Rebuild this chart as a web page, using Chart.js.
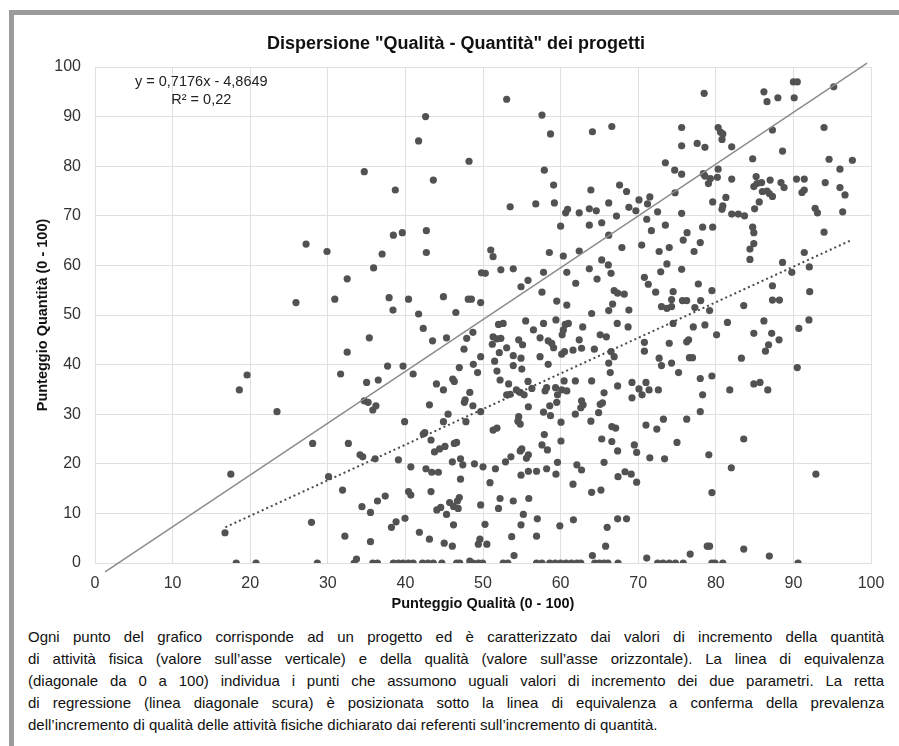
<!DOCTYPE html>
<html lang="it">
<head>
<meta charset="utf-8">
<title>Dispersione Qualità - Quantità</title>
<script src="https://cdn.jsdelivr.net/npm/chart.js@4.4.1/dist/chart.umd.min.js"></script>
<style>
  html, body { margin: 0; padding: 0; background: #fff; }
  body { width: 899px; height: 746px; position: relative; overflow: hidden; font-family: "Liberation Sans", Arial, Helvetica, sans-serif; }
  #frame { position: absolute; left: 9px; top: 10px; width: 900px; height: 750px; border-top: 5px solid #9b9b9b; border-left: 5px solid #9b9b9b; }
  #chart { position: absolute; left: 0; top: 0; }
  #caption { position: absolute; left: 28px; top: 626px; width: 856px; font-size: 15px; line-height: 22px; color: #111; }
  #caption div { text-align: justify; text-align-last: justify; }
  #caption div.last { text-align-last: left; }
</style>
</head>
<body>
<div id="frame"></div>
<canvas id="chart" width="899" height="620"></canvas>
<div id="caption">
  <div>Ogni punto del grafico corrisponde ad un progetto ed è caratterizzato dai valori di incremento della quantità</div>
  <div>di attività fisica (valore sull’asse verticale) e della qualità (valore sull’asse orizzontale). La linea di equivalenza</div>
  <div>(diagonale da 0 a 100) individua i punti che assumono uguali valori di incremento dei due parametri. La retta</div>
  <div>di regressione (linea diagonale scura) è posizionata sotto la linea di equivalenza a conferma della prevalenza</div>
  <div class="last">dell’incremento di qualità delle attività fisiche dichiarato dai referenti sull’incremento di quantità.</div>
</div>
<script>
/*----- data -----*/
const chartTitle = 'Dispersione "Qualità - Quantità" dei progetti'
const xTitle = 'Punteggio Qualità (0 - 100)'
const yTitle = 'Punteggio Quantità (0 - 100)'
const tickValues = [0, 10, 20, 30, 40, 50, 60, 70, 80, 90, 100]
const equationLines = ['y = 0,7176x - 4,8649', 'R² = 0,22']

// trend line and equivalence line, end points
const regressionQuality = [16.8, 97.6]
const regressionQuantity = [7.2, 65.2]
const equivalenceQuality = [1.3, 99.5]
const equivalenceQuantity = [-1.8, 100.8]

// projects as [quality, quantity]
const projectsUnder30 = [
  [17.5,17.9],[16.75,6.1],[18.2,0],[20.75,0],[23.45,30.5],[18.6,34.9],[19.6,37.9],[25.9,52.5],
  [27.2,64.3],[29.9,62.8],[28.05,24.1],[27.9,8.2],[28.65,0]
]
const projects30to50 = [
  [30.9,53.2],[32.5,57.3],[35.9,59.5],[37.0,62.3],[37.9,53.5],[38.4,51.0],[38.45,66.1],[39.6,66.6],
  [40.4,53.2],[41.7,50.2],[42.7,67.0],[42.7,62.6],[44.9,53.7],[34.7,78.9],[38.7,75.2],[41.7,85.1],
  [42.6,90.0],[43.6,77.2],[48.2,81.0],[46.5,50.5],[48.1,53.2],[48.5,53.2],[49.7,52.5],[49.8,58.5],
  [35.35,45.4],[32.5,42.5],[31.65,38.1],[35.0,36.4],[36.5,36.9],[37.7,39.7],[39.7,39.7],[41.0,38.1],
  [42.3,47.3],[43.5,44.8],[45.3,45.4],[34.7,32.7],[35.2,32.4],[36.2,31.7],[35.8,30.85],[47.9,45.3],
  [48.7,46.5],[47.55,43.1],[49.7,41.6],[48.75,40.05],[49.3,38.4],[46.95,39.4],[44.0,36.1],[44.9,34.9],
  [46.1,37.1],[46.3,36.6],[48.3,34.4],[47.7,32.9],[47.6,32.4],[48.7,31.7],[49.7,30.5],[43.1,31.9],
  [45.5,30.0],[47.8,28.5],[44.9,28.5],[39.9,28.5],[42.5,26.3],[42.3,26.0],[43.3,24.8],[43.75,22.4],
  [44.4,23.0],[45.1,23.5],[46.3,24.1],[46.6,24.3],[46.05,20.4],[47.1,21.0],[47.4,19.8],[48.9,20.0],
  [50.0,19.4],[47.1,16.9],[39.1,20.8],[40.7,19.4],[42.65,19.0],[43.4,18.3],[44.25,18.3],[34.15,21.8],
  [34.5,21.4],[36.1,21.0],[32.65,24.1],[30.1,17.4],[31.9,14.7],[40.4,14.4],[40.7,13.7],[37.4,13.5],
  [36.4,12.5],[34.4,11.35],[35.5,10.2],[43.3,14.4],[44.05,10.7],[44.55,11.2],[45.7,12.2],[46.2,11.4],
  [46.8,11.0],[46.95,13.2],[46.7,12.5],[45.3,9.8],[46.2,7.7],[49.7,11.7],[39.95,9.0],[38.8,8.3],
  [38.2,7.2],[32.2,5.4],[35.5,4.3],[41.8,6.2],[43.1,4.8],[45.0,4.0],[46.05,3.4],[49.6,4.8],
  [49.4,3.8],[33.4,0],[33.7,0.8],[35.8,0],[36.4,0],[38.45,0],[39.1,0],[39.7,0],
  [40.4,0],[41.0,0],[42.2,0],[42.9,0],[43.6,0],[44.7,0],[46.6,0],[47.0,0],
  [48.3,0.4],[48.7,0],[49.4,0],[49.95,0]
]
const projects50to75 = [
  [53.05,93.5],[57.6,90.3],[58.7,86.5],[64.1,86.95],[66.6,88.0],[57.9,79.2],[59.1,76.2],[59.2,72.6],
  [53.5,71.8],[56.8,72.4],[60.65,70.6],[60.9,71.3],[62.4,70.6],[60.0,67.9],[63.9,75.2],[63.7,71.4],
  [64.6,71.0],[63.7,68.1],[65.3,68.6],[66.2,72.6],[67.6,76.2],[68.5,74.9],[68.8,71.7],[69.7,71.0],
  [70.1,73.2],[71.2,72.4],[71.5,73.8],[67.2,69.95],[66.2,66.1],[67.9,63.6],[71.1,69.3],[71.7,67.0],
  [72.5,70.8],[73.5,80.7],[74.7,79.2],[74.75,74.65],[73.5,68.1],[70.45,64.1],[72.7,62.8],[74.0,63.6],
  [73.7,60.3],[72.9,58.7],[51.0,63.1],[51.3,61.75],[50.3,58.4],[52.3,59.1],[53.9,59.3],[54.9,55.7],
  [55.8,57.0],[57.8,58.6],[57.6,54.6],[58.55,62.6],[60.35,61.9],[60.8,58.6],[62.4,62.9],[61.95,56.4],
  [59.5,52.8],[60.8,52.0],[63.7,59.3],[64.7,57.25],[65.3,61.1],[66.15,60.1],[66.5,58.4],[66.9,54.9],
  [67.35,54.4],[68.2,54.2],[66.7,52.2],[64.0,50.3],[66.2,50.9],[68.8,51.0],[70.8,57.6],[71.3,56.2],
  [72.25,54.6],[73.0,51.7],[73.7,51.35],[74.3,51.7],[74.3,53.1],[74.5,54.7],
  [52.0,48.1],[52.6,48.3],[55.5,48.8],[56.5,47.0],[57.8,48.3],[59.4,49.0],[60.6,48.1],[61.0,48.3],
  [60.35,47.0],[60.2,46.0],[62.85,47.6],[67.3,48.3],[68.7,47.6],[65.1,46.0],[65.9,45.6],[74.5,48.3],
  [51.3,45.6],[51.8,45.2],[52.3,45.3],[51.2,44.1],[53.05,43.4],[52.1,42.4],[54.6,45.0],[55.1,44.0],
  [57.35,45.4],[58.4,44.8],[58.85,44.3],[59.1,43.4],[53.9,41.8],[54.9,41.3],[51.5,40.7],[53.9,39.8],
  [55.0,39.1],[57.35,41.6],[58.4,40.05],[60.15,42.1],[60.5,42.6],[61.6,42.9],[62.7,43.3],[62.4,45.0],
  [64.35,43.1],[66.5,42.6],[66.9,41.6],[66.2,40.3],[66.4,38.4],[70.8,44.5],[70.8,42.7],[72.7,41.3],
  [73.0,39.8],[74.3,40.3],[74.0,44.3],[75.2,38.4],[51.8,38.7],[52.2,36.9],[53.3,36.1],[55.8,36.6],
  [56.3,35.2],[54.3,34.9],[54.8,34.4],[55.3,33.9],[53.05,33.9],[53.5,34.0],[58.2,35.35],[58.0,34.7],
  [59.35,35.35],[59.6,33.9],[60.15,34.9],[60.8,34.7],[60.45,36.7],[61.9,36.7],[64.0,36.7],[65.6,34.3],
  [67.35,35.7],[69.2,36.4],[70.1,35.1],[70.5,33.9],[71.0,36.4],[71.4,34.9],[72.6,34.9],[69.2,33.3],
  [59.5,32.4],[58.6,31.7],[57.8,30.4],[58.7,29.7],[62.7,32.7],[62.9,31.9],[62.6,31.3],[61.9,30.0],
  [65.1,32.0],[65.4,32.3],[64.9,30.3],[55.85,31.5],[54.6,29.5],[54.5,28.6],[54.8,28.0],[51.3,26.8],
  [51.8,27.2],[60.05,28.4],[63.9,28.6],[66.6,27.5],[67.1,27.2],[71.0,27.8],[72.4,27.0],[73.25,29.0],
  [57.9,25.9],[57.6,23.8],[58.3,22.8],[60.05,24.6],[65.3,25.0],[66.6,24.5],[67.35,22.6],[69.5,23.8],
  [69.8,22.3],[75.0,24.3],[55.0,23.0],[54.8,22.6],[55.85,21.8],[55.6,21.1],[53.6,21.4],[52.9,20.4],
  [71.5,21.2],[73.4,21.0],[51.6,19.0],[50.9,16.2],[54.9,17.7],[55.85,18.5],[56.9,18.5],[58.2,19.0],
  [59.4,17.9],[59.6,20.3],[62.1,19.8],[62.7,18.75],[65.6,20.3],[67.4,17.4],[68.3,18.4],[69.1,17.9],
  [69.8,16.3],[61.6,15.9],[64.0,14.25],[65.2,14.7],[52.2,13.0],[53.9,12.5],[55.9,13.0],[52.0,11.0],
  [55.2,9.8],[57.0,8.9],[54.9,7.7],[50.26,7.8],[61.65,8.7],[59.9,7.5],[67.35,8.9],[68.5,8.9],
  [66.0,7.2],[53.7,5.3],[56.9,5.4],[50.5,3.8],[65.8,3.4],[54.0,1.5],[64.1,1.5],[71.1,1.0],
  [52.6,0],[53.2,0],[56.9,0],[57.6,0],[58.6,0],[59.3,0],[60.0,0],[60.7,0],
  [61.4,0],[62.1,0],[62.6,0],[64.4,0],[65.0,0],[65.6,0],[66.1,0],[67.4,0],
  [72.5,0],[73.2,0],[74.0,0],[74.8,0]
]
const projectsOver75 = [
  [78.5,94.7],[86.2,95.0],[86.6,93.0],[88.0,93.8],[90.0,97.0],[90.5,97.0],[90.1,93.8],[95.2,96.0],
  [75.6,87.8],[75.6,84.1],[80.3,87.8],[80.6,86.9],[80.9,86.5],[80.8,85.4],[77.6,84.6],[78.6,83.8],
  [82.05,83.9],[87.3,87.3],[88.6,83.05],[93.95,87.8],[84.75,81.5],[94.6,81.4],[97.6,81.2],[96.0,79.4],
  [75.6,78.4],[78.4,78.5],[78.6,78.0],[79.05,76.5],[79.3,77.5],[80.3,79.4],[80.2,77.75],[82.05,77.4],
  [85.2,77.9],[84.9,75.9],[85.3,76.5],[85.9,76.7],[87.0,77.2],[86.0,74.9],[86.6,75.0],[86.9,74.5],
  [87.3,73.9],[88.4,76.7],[88.8,75.7],[90.4,77.4],[91.4,77.4],[91.1,74.7],[91.4,75.2],[94.1,76.7],
  [96.0,75.7],[96.65,74.2],[85.6,72.8],[85.0,71.4],[81.3,73.7],[79.6,72.8],[80.9,72.0],[80.8,71.3],
  [82.05,70.35],[82.9,70.35],[83.7,70.0],[75.6,70.5],[92.8,71.5],[93.1,70.6],[96.35,70.8],[78.3,67.7],
  [79.6,67.7],[76.3,66.6],[75.8,65.1],[78.0,64.6],[77.2,62.8],[84.75,67.7],[84.9,66.6],[84.9,64.4],
  [84.4,63.3],[84.4,61.2],[93.95,66.7],[91.4,62.6],[88.6,60.6],[89.8,58.6],[92.05,59.7],[75.6,59.2],
  [77.75,56.25],[79.5,54.9],[87.3,55.9],[92.1,54.7],[83.6,51.9],[87.3,53.0],[88.2,53.0],[75.7,52.9],
  [76.25,52.9],[77.3,51.5],[78.05,52.9],[79.2,50.9],
  [77.1,47.6],[78.6,48.0],[81.5,48.5],[86.2,48.8],[76.5,45.0],[76.25,44.6],[80.1,46.0],[84.9,46.3],
  [87.2,46.3],[88.15,45.0],[86.8,44.0],[86.4,42.7],[76.6,41.4],[77.0,41.4],[83.3,41.3],[90.7,47.3],
  [92.0,49.0],[90.5,39.4],[78.0,37.2],[79.5,37.7],[78.3,33.9],[81.8,34.9],[84.9,36.1],[85.7,36.4],
  [86.7,34.9],[78.0,30.5],[76.25,29.0],[83.6,25.0],[79.1,21.8],[82.0,19.2],[92.9,17.9],[79.5,14.2],
  [78.9,3.4],[79.2,3.4],[76.7,1.8],[83.6,2.8],[86.9,1.4],[75.8,0],[79.5,0],[79.9,0],
  [80.9,0],[90.6,0]
]

/*----- chart -----*/
const fontFamily = '"Liberation Sans", Arial, Helvetica, sans-serif'
Chart.defaults.font.family = fontFamily
Chart.defaults.color = '#333'

const allProjects = [...projectsUnder30, ...projects30to50, ...projects50to75, ...projectsOver75]
const toPoints = (xs, ys) => xs.map((v, i) => ({x: v, y: ys[i]}))

// where the equation text sits, in axis units
const equationAt = {x: 13.7, y: [97.0, 93.4]}

const equationLabel = {
  id: 'equationLabel',
  afterDatasetsDraw(chart) {
    const {ctx, scales} = chart
    ctx.save()
    ctx.font = '14.5px ' + fontFamily
    ctx.fillStyle = '#222'
    ctx.textAlign = 'center'
    ctx.textBaseline = 'middle'
    equationLines.forEach((line, i) => {
      ctx.fillText(line, scales.x.getPixelForValue(equationAt.x), scales.y.getPixelForValue(equationAt.y[i]))
    })
    ctx.restore()
  }
}

const gridColor = '#e0e0e0'
const fixedTicks = scale => { scale.ticks = tickValues.map(v => ({value: v})) }

new Chart(document.getElementById('chart'), {
  type: 'scatter',
  data: {
    datasets: [
      {
        label: 'regressione',
        data: toPoints(regressionQuality, regressionQuantity),
        showLine: true,
        borderColor: '#4a4a4a',
        borderWidth: 2,
        borderDash: [2, 3],
        pointRadius: 0
      },
      {
        label: 'equivalenza',
        data: toPoints(equivalenceQuality, equivalenceQuantity),
        showLine: true,
        borderColor: '#8c8c8c',
        borderWidth: 1.5,
        pointRadius: 0,
        clip: false
      },
      {
        label: 'progetti',
        data: allProjects.map(p => ({x: p[0], y: p[1]})),
        backgroundColor: '#525252',
        borderWidth: 0,
        pointRadius: 3.6
      }
    ]
  },
  options: {
    responsive: false,
    animation: false,
    // left padding centres the title like the original; the y axis box fills the rest up to the plot
    layout: { padding: { left: 41, right: 28, top: 0, bottom: 0 } },
    plugins: {
      legend: { display: false },
      tooltip: { enabled: false },
      title: {
        display: true,
        text: chartTitle,
        color: '#111',
        font: { size: 18, weight: 'bold' },
        padding: { top: 33, bottom: 12.4 }
      }
    },
    scales: {
      x: {
        type: 'linear',
        min: 0,
        max: 100,
        afterBuildTicks: fixedTicks,
        afterFit: scale => { scale.height = 57 },
        grid: { color: gridColor, drawTicks: false },
        border: { color: gridColor },
        ticks: { padding: 11, font: { size: 16 }, color: '#333' },
        title: { display: true, text: xTitle, color: '#111', font: { size: 14.5, weight: 'bold' }, padding: { top: 0, bottom: 7 } }
      },
      y: {
        type: 'linear',
        min: 0,
        max: 100,
        afterBuildTicks: fixedTicks,
        afterFit: scale => { scale.width = 54 },
        grid: { color: gridColor, drawTicks: false },
        border: { color: gridColor },
        ticks: { padding: 14, font: { size: 16 }, color: '#333' },
        title: { display: true, text: yTitle, color: '#111', font: { size: 14.5, weight: 'bold' }, padding: { top: -7, bottom: 0 } }
      }
    }
  },
  plugins: [equationLabel]
})
</script>
</body>
</html>
